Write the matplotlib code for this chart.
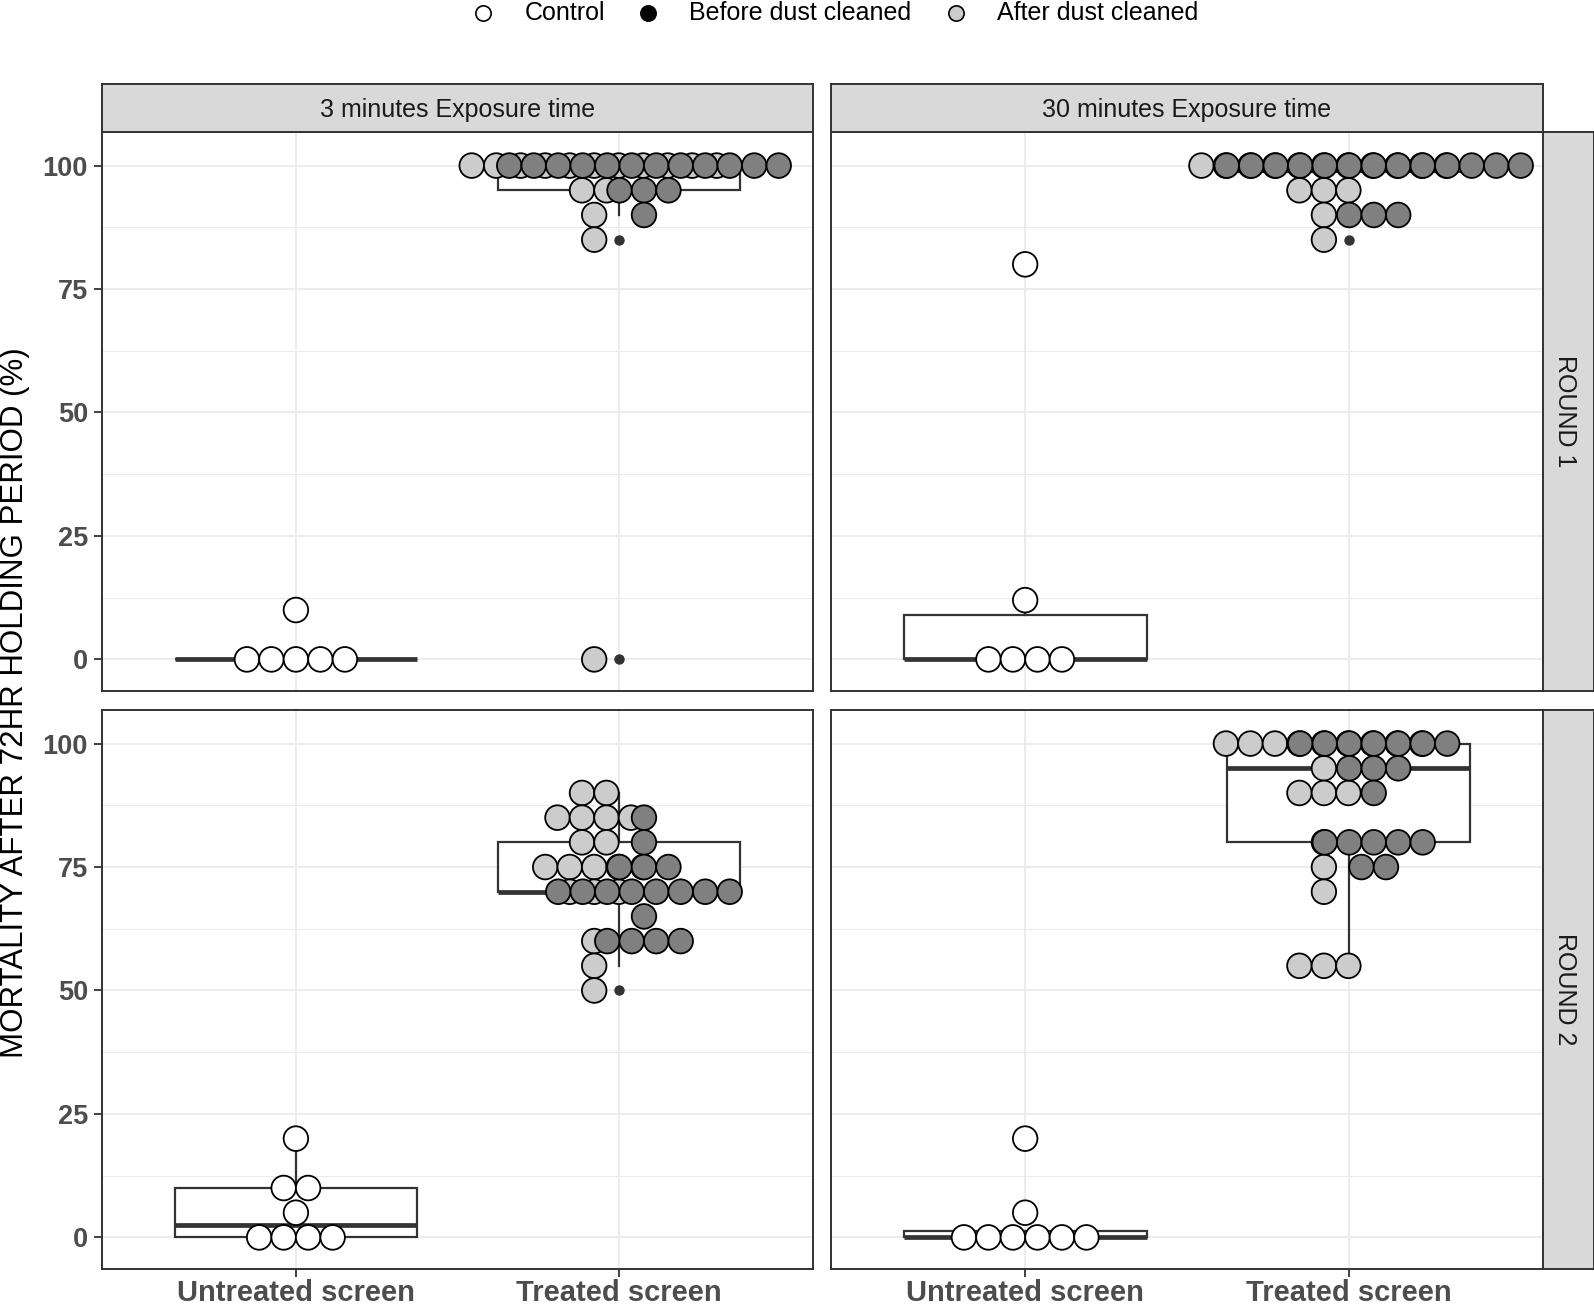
import matplotlib
matplotlib.use("Agg")
import matplotlib.pyplot as plt
from matplotlib.patches import Ellipse
from matplotlib.lines import Line2D
from collections import Counter

plt.rcParams['font.family'] = ['Liberation Sans', 'DejaVu Sans']

# ---------------- data ----------------
x_labels = ["Untreated screen", "Treated screen"]
col_titles = ["3 minutes Exposure time", "30 minutes Exposure time"]
row_titles = ["ROUND 1", "ROUND 2"]
legend_labels = ["Control", "Before dust cleaned", "After dust cleaned"]
y_ticks = [0, 25, 50, 75, 100]

# Round 1, 3 minutes
r1_3_control = [0, 0, 0, 0, 0, 10]
r1_3_before = [100, 100, 100, 100, 100, 100, 100, 100, 100, 100, 100, 100, 95, 95, 95, 90]
r1_3_after = [100, 100, 100, 100, 100, 100, 100, 100, 100, 100, 100, 95, 95, 90, 85, 0]
# Round 1, 30 minutes
r1_30_control = [0, 0, 0, 0, 12, 80]
r1_30_before = [100, 100, 100, 100, 100, 100, 100, 100, 100, 100, 100, 100, 100, 90, 90, 90]
r1_30_after = [100, 100, 100, 100, 100, 100, 100, 100, 100, 100, 100, 95, 95, 95, 90, 85]
# Round 2, 3 minutes
r2_3_control = [0, 0, 0, 0, 5, 10, 10, 20]
r2_3_before = [85, 80, 75, 75, 75, 70, 70, 70, 70, 70, 70, 70, 70, 65, 60, 60, 60, 60]
r2_3_after = [90, 90, 85, 85, 85, 85, 80, 80, 75, 75, 75, 75, 75, 70, 70, 70, 60, 55, 50]
# Round 2, 30 minutes
r2_30_control = [0, 0, 0, 0, 0, 0, 5, 20]
r2_30_before = [100, 100, 100, 100, 100, 100, 100, 95, 95, 95, 90, 80, 80, 80, 80, 80, 75, 75]
r2_30_after = [100, 100, 100, 100, 100, 100, 100, 100, 100, 95, 90, 90, 90, 80, 75, 70, 55, 55, 55]

panels = [
    [(r1_3_control, r1_3_before, r1_3_after), (r1_30_control, r1_30_before, r1_30_after)],
    [(r2_3_control, r2_3_before, r2_3_after), (r2_30_control, r2_30_before, r2_30_after)],
]

# ---------------- style ----------------
W, H = 1594, 1310
fig = plt.figure(figsize=(W / 100, H / 100), dpi=100)

cols_x = [(102, 813), (831, 1543)]
rows_y = [(132, 691), (710, 1269)]
XLIM = (0.4, 2.6)
YLIM = (-6.4, 106.8)
BINW = 5.0
DOT_PX = 24.5
DODGE = 0.077
C_CTRL = "white"
C_BEFORE = "#808080"
C_AFTER = "#CCCCCC"
DARK = "#333333"
GRID = "#EBEBEB"


def draw_dots(ax, values, xc, fill, dot_w, z):
    counts = Counter(values)
    for v, n in counts.items():
        for k in range(n):
            x = xc + (k - (n - 1) / 2) * dot_w
            ax.add_patch(Ellipse((x, v), dot_w, BINW, facecolor=fill,
                                 edgecolor="black", lw=1.3, zorder=z))


for r, (y0, y1) in enumerate(rows_y):
    for c, (x0, x1) in enumerate(cols_x):
        ax = fig.add_axes([x0 / W, 1 - y1 / H, (x1 - x0) / W, (y1 - y0) / H])
        ctrl, before, after = panels[r][c]
        ax.set_xlim(*XLIM)
        ax.set_ylim(*YLIM)
        dot_w = DOT_PX * (XLIM[1] - XLIM[0]) / (x1 - x0)

        ax.boxplot([ctrl, before + after], positions=[1, 2], widths=0.75,
                   patch_artist=True, showcaps=False, whis=1.5,
                   manage_ticks=False,
                   boxprops=dict(facecolor="white", edgecolor=DARK, lw=1.6),
                   medianprops=dict(color=DARK, lw=3.4, solid_capstyle="butt"),
                   whiskerprops=dict(color=DARK, lw=1.6),
                   flierprops=dict(marker="o", markerfacecolor=DARK,
                                   markeredgecolor=DARK, markersize=6.5),
                   zorder=2)

        draw_dots(ax, ctrl, 1, C_CTRL, dot_w, 3)
        draw_dots(ax, after, 2 - DODGE, C_AFTER, dot_w, 4)
        draw_dots(ax, before, 2 + DODGE, C_BEFORE, dot_w, 5)

        ax.set_yticks(y_ticks)
        ax.set_yticks([12.5, 37.5, 62.5, 87.5], minor=True)
        ax.set_xticks([1, 2])
        ax.set_xticklabels(x_labels)
        ax.set_axisbelow(True)
        ax.grid(which="major", color=GRID, lw=1.3)
        ax.grid(which="minor", axis="y", color=GRID, lw=0.7)
        ax.tick_params(which="minor", length=0)
        ax.tick_params(which="major", length=6, width=1.3, color=DARK)
        ax.tick_params(axis="y", labelsize=19.5, labelcolor="#4D4D4D", pad=4)
        ax.tick_params(axis="x", labelsize=21, labelcolor="#4D4D4D", pad=1.5)
        for lab in ax.get_xticklabels() + ax.get_yticklabels():
            lab.set_fontweight("bold")
        for s in ax.spines.values():
            s.set_color(DARK)
            s.set_linewidth(1.4)
        if c == 1:
            ax.tick_params(axis="y", left=False, labelleft=False)
        if r == 0:
            ax.tick_params(axis="x", bottom=False, labelbottom=False)

# top strips
for c, (x0, x1) in enumerate(cols_x):
    sa = fig.add_axes([x0 / W, 1 - 132 / H, (x1 - x0) / W, 48 / H])
    sa.set_facecolor("#D9D9D9")
    sa.set_xticks([]); sa.set_yticks([])
    for s in sa.spines.values():
        s.set_color(DARK); s.set_linewidth(1.4)
    sa.text(0.5, 0.45, col_titles[c], ha="center", va="center", fontsize=18,
            color="#1A1A1A", transform=sa.transAxes)

# right strips
for r, (y0, y1) in enumerate(rows_y):
    sa = fig.add_axes([1543 / W, 1 - y1 / H, 51 / W, (y1 - y0) / H])
    sa.set_facecolor("#D9D9D9")
    sa.set_xticks([]); sa.set_yticks([])
    for s in sa.spines.values():
        s.set_color(DARK); s.set_linewidth(1.4)
    sa.text(0.44, 0.5, row_titles[r], ha="center", va="center", fontsize=18,
            color="#1A1A1A", rotation=-90, transform=sa.transAxes)

# y-axis title
fig.text(15 / W, 1 - 703 / H, "MORTALITY AFTER 72HR HOLDING PERIOD (%)",
         rotation=90, ha="center", va="center", fontsize=22.5, color="black")

# legend
leg_fills = [C_CTRL, "black", C_AFTER]
leg_marker_x = [483, 648, 956]
leg_text_x = [525, 689, 997]
ly = 1 - 13 / H
for fill, mx, tx, lab in zip(leg_fills, leg_marker_x, leg_text_x, legend_labels):
    fig.add_artist(Line2D([mx / W], [ly], marker="o", markersize=11,
                          markerfacecolor=fill, markeredgecolor="black",
                          markeredgewidth=1.2, linestyle="none",
                          transform=fig.transFigure))
    fig.text(tx / W, ly, lab, ha="left", va="center", fontsize=18, color="black")

fig.savefig("out.png", dpi=100, facecolor="white")
